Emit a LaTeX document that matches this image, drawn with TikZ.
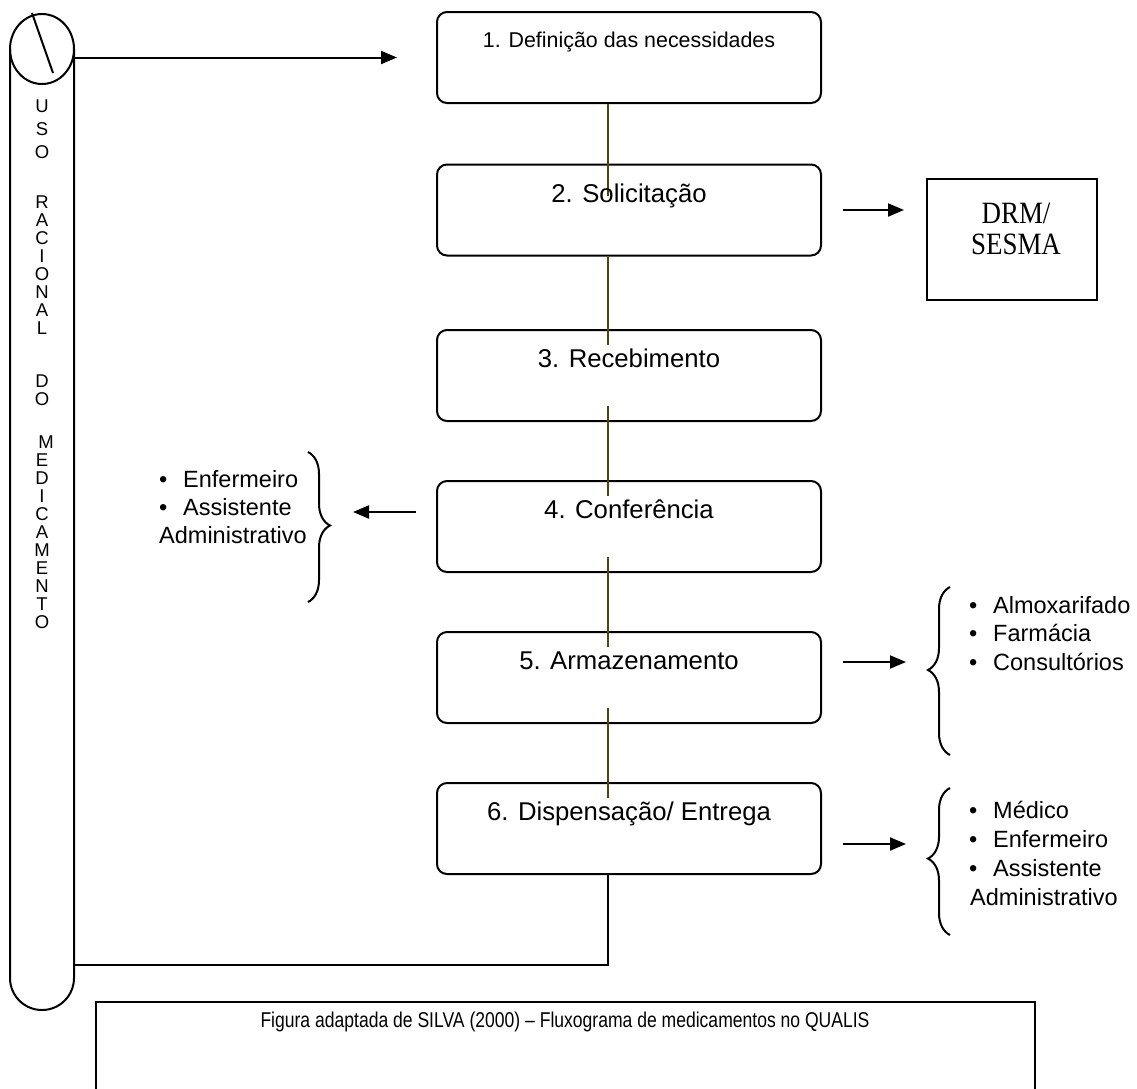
\documentclass[tikz,border=0pt]{standalone}
\usepackage{fontspec}
\setmainfont{Liberation Sans}
\newfontfamily\drmfont{Liberation Serif}[FakeStretch=0.87]
\newfontfamily\capfont{Liberation Sans}[FakeStretch=0.82]
\usetikzlibrary{arrows.meta,decorations.pathreplacing,calc}
\definecolor{olivelink}{RGB}{72,72,18}
\newcommand{\bulitem}{\makebox[25pt][l]{\hspace{1pt}\textbullet}}

\tikzset{
  procbox/.style={draw, line width=2pt, rounded corners=10pt, minimum width=384pt,
    minimum height=91pt, inner sep=0pt, fill=white},
  boxlabel/.style={font=\fontsize{25.7}{30}\selectfont, anchor=base, inner sep=0pt},
  smalllabel/.style={font=\fontsize{21.4}{25}\selectfont, anchor=base, inner sep=0pt},
  listitem/.style={font=\fontsize{23.5}{28}\selectfont, anchor=base west, inner sep=0pt},
  vlet/.style={font=\fontsize{18.5}{21}\selectfont, anchor=base, inner sep=0pt},
  link/.style={draw=olivelink, line width=2pt},
  frame/.style={draw, line width=2pt},
  arr/.style={line width=2pt, -{Triangle[length=16pt,width=13pt]}},
  curly/.style={line width=2pt, decorate},
}

\begin{document}
\begin{tikzpicture}[x=1pt, y=-1pt]
\useasboundingbox (0,0) rectangle (1137,1088);

% scroll column on the left
\draw[frame] (42,49) ellipse [x radius=32pt, y radius=35pt];
\draw[frame] (32,13) -- (53,73);
\draw[frame] (10,49) -- (10,978) arc[start angle=180, end angle=360, radius=32pt] -- (74,49);
\coordinate (scrollTop) at (74,57.5);
\coordinate (scrollBot) at (74,965);

% one letter per line, blank lines between the words
\foreach \ch/\yy/\dx [count=\i] in {U/106/0, S/129/0, O/152/0,
  R/202/0, A/220/0, C/238/0, I/256/0, O/274/0, N/292/0, A/310/0, L/328/0,
  D/381/0, O/399/0,
  M/442/4, E/460/0, D/478/0, I/496/0, C/514/0, A/532/0, M/550/0, E/568/0,
  N/586/0, T/604/0, O/622/0}
  \node[vlet] (v\i) at ({42+\dx},{\yy+6.5}) {\ch};

% process boxes
\node[procbox] (b1) at (629,57.5) {};
\node[procbox] (b2) at (629,210) {};
\node[procbox] (b3) at (629,375.5) {};
\node[procbox] (b4) at (629,526.5) {};
\node[procbox] (b5) at (629,677.5) {};
\node[procbox] (b6) at (629,828.5) {};

% vertical links between the steps
\draw[link] ([xshift=-21pt]b1.south) -- ([xshift=-21pt,yshift=-32pt]b2.north);
\draw[link] ([xshift=-21pt]b2.south) -- ([xshift=-21pt,yshift=-16pt]b3.north);
\draw[link] ([xshift=-21pt,yshift=16pt]b3.south) -- ([xshift=-21pt,yshift=-16pt]b4.north);
\draw[link] ([xshift=-21pt,yshift=16pt]b4.south) -- ([xshift=-21pt,yshift=-16pt]b5.north);
\draw[link] ([xshift=-21pt,yshift=16pt]b5.south) -- ([xshift=-21pt,yshift=-16pt]b6.north);

\node[smalllabel] (t1) at (629,47) {1. Definição das necessidades};
\node[boxlabel] (t2) at (629,202) {2. Solicitação};
\node[boxlabel] (t3) at (629,367) {3. Recebimento};
\node[boxlabel] (t4) at (629,518) {4. Conferência};
\node[boxlabel] (t5) at (629,669) {5. Armazenamento};
\node[boxlabel] (t6) at (629,820) {6. Dispensação/ Entrega};

% return path and entry arrow
\draw[frame] ([xshift=-21pt]b6.south) |- (scrollBot);
\draw[arr] (scrollTop) -- ([xshift=-39pt]b1.west);

% DRM / SESMA
\node[frame, minimum width=170pt, minimum height=121pt, inner sep=0pt] (drm) at (1012,239.5) {};
\node[font=\drmfont\fontsize{31}{33}\selectfont, anchor=base, inner sep=0pt] (drm1) at (1016,223) {DRM/};
\node[font=\drmfont\fontsize{31}{33}\selectfont, anchor=base, inner sep=0pt] (drm2) at (1016,254) {SESMA};
\draw[arr] ([xshift=21pt]b2.east) -- ([xshift=-22pt]b2.east -| drm.west);

% staff list at step 4
\node[listitem] (l1) at (158,487) {\bulitem Enfermeiro};
\node[listitem] (l2) at (158,515) {\bulitem Assistente};
\node[listitem] (l3) at (159,543) {Administrativo};
\draw[curly, decoration={brace, amplitude=22pt, aspect=0.49}] (308,452) -- (308,602);
\coordinate (a4) at (353,512);
\draw[arr] (b4.west |- a4) ++(-20pt,0) -- (a4);

% storage places at step 5
\node[listitem] (r1) at (968,613) {\bulitem Almoxarifado};
\node[listitem] (r2) at (968,641) {\bulitem Farmácia};
\node[listitem] (r3) at (968,670) {\bulitem Consultórios};
\draw[curly, decoration={brace, amplitude=22pt, aspect=0.506}] (950,755) -- (950,587);
\coordinate (a5) at (906,662);
\draw[arr] ([xshift=21pt]b5.east |- a5) -- (a5);

% staff list at step 6
\node[listitem] (s1) at (968,818) {\bulitem Médico};
\node[listitem] (s2) at (968,847) {\bulitem Enfermeiro};
\node[listitem] (s3) at (968,876) {\bulitem Assistente};
\node[listitem] (s4) at (970,905) {Administrativo};
\draw[curly, decoration={brace, amplitude=22pt, aspect=0.52}] (950,935) -- (950,788);
\coordinate (a6) at (906,844);
\draw[arr] ([xshift=21pt]b6.east |- a6) -- (a6);

% caption frame
\node[frame, minimum width=939pt, minimum height=110pt, inner sep=0pt] (capbox) at (565.5,1057) {};
\node[font=\capfont\fontsize{21.4}{25}\selectfont, anchor=base, inner sep=0pt] (captxt) at (565,1027)
  {Figura adaptada de SILVA (2000) – Fluxograma de medicamentos no QUALIS};
\end{tikzpicture}
\end{document}
